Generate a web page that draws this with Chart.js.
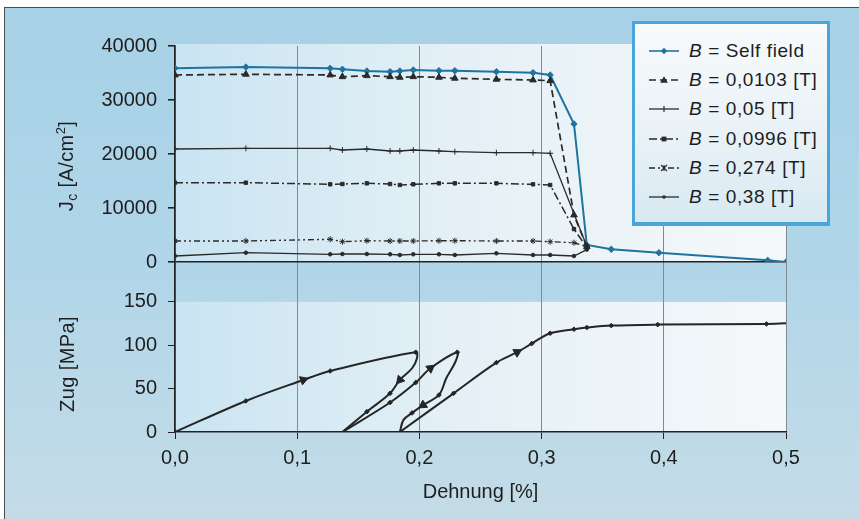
<!DOCTYPE html>
<html>
<head>
<meta charset="utf-8">
<script src="https://cdn.jsdelivr.net/npm/chart.js@4.4.1/dist/chart.umd.min.js"></script>
<style>
html,body{margin:0;padding:0;background:#fff;}
#wrap{position:relative;width:859px;height:519px;overflow:hidden;background:#fff;}
#frame{position:absolute;left:4px;top:7px;width:870px;height:530px;border-left:1px solid #4d4d4d;border-top:1px solid #4d4d4d;
  background:linear-gradient(to bottom,#a7d1e6 0%,#b1d6e9 50%,#c6dce7 100%);}
#c{position:absolute;left:0;top:0;}
.ytitle{position:absolute;font-family:"Liberation Sans",Arial,sans-serif;font-size:20px;color:#1e1e1e;
  transform:translate(-50%,-50%) rotate(-90deg);white-space:nowrap;letter-spacing:0.4px;}
.ytitle sub{font-size:14px;vertical-align:-4px;}
.ytitle sup{font-size:13px;vertical-align:8px;}
#legend{position:absolute;left:632px;top:21px;width:192px;height:198px;
  border:3px solid #4aa5d8;border-bottom-width:4px;
  background:linear-gradient(to bottom,#f8fafc 0%,#e9f2f7 55%,#d8e9f2 100%);}
.row{position:absolute;left:13px;height:24px;display:flex;align-items:center;
  font-family:"Liberation Sans",Arial,sans-serif;font-size:19px;color:#1e1e1e;letter-spacing:0.6px;white-space:nowrap;}
.row svg{margin-right:9px;}
.row i{font-style:italic;}
</style>
</head>
<body>
<div id="wrap">
  <div id="frame"></div>
  <canvas id="c" width="859" height="519"></canvas>
  <div class="ytitle" style="left:66px;top:166px;">J<sub>c</sub> [A/cm<sup>2</sup>]</div>
  <div class="ytitle" style="left:67px;top:364px;">Zug [MPa]</div>
  <div id="legend"></div>
</div>
<script>
// ---------- data ----------
const xTickValues = [0, 0.1, 0.2, 0.3, 0.4, 0.5];
const xTickLabels = ['0,0', '0,1', '0,2', '0,3', '0,4', '0,5'];
const jcTickValues = [0, 10000, 20000, 30000, 40000];
const jcTickLabels = ['0', '10000', '20000', '30000', '40000'];
const zugTickValues = [0, 50, 100, 150];
const zugTickLabels = ['0', '50', '100', '150'];

// strain [%] for the Jc measurements
const strainJc = [0, 0.058, 0.127, 0.137, 0.157, 0.176, 0.184, 0.195, 0.216, 0.229, 0.263, 0.293, 0.307, 0.3265, 0.337, 0.357, 0.396, 0.485, 0.5];
const jcSelfField = [35900, 36100, 35870, 35690, 35370, 35240, 35370, 35560, 35430, 35430, 35240, 35060, 34630, 25560, 3150, 2350, 1720, 310, 0];
const jcB0103 = [34630, 34760, 34630, 34310, 34500, 34310, 34200, 34310, 34200, 34020, 33830, 33700, 33570, 8700, 2830, null, null, null, null];
const jcB05   = [20930, 21060, 21060, 20740, 20930, 20560, 20560, 20740, 20560, 20430, 20240, 20240, 20130, null, 2900, null, null, null, null];
const jcB0996 = [14690, 14690, 14390, 14440, 14570, 14440, 14260, 14390, 14570, 14570, 14570, 14390, 14260, 6100, 2700, null, null, null, null];
const jcB274  = [3890, 3890, 4200, 3760, 3940, 3890, 3890, 3890, 3940, 3940, 3890, 3890, 3760, 3570, 2830, null, null, null, null];
const jcB38   = [1110, 1720, 1430, 1480, 1480, 1430, 1300, 1430, 1430, 1300, 1610, 1300, 1300, 1110, 2300, null, null, null, null];

// tensile stress [MPa] vs strain, three load cycles
const zugC1Strain = [0, 0.058, 0.105, 0.127, 0.197, 0.198, 0.194, 0.184, 0.176, 0.157, 0.137];
const zugC1Stress = [0, 35.8, 60, 70.4, 92, 85, 73.5, 60, 44.6, 23.4, 0];
const zugC2Strain = [0.137, 0.176, 0.197, 0.209, 0.231, 0.2295, 0.222, 0.216, 0.203, 0.194, 0.187, 0.184];
const zugC2Stress = [0, 34, 57, 73.5, 92, 81, 62, 42.7, 31, 22, 14, 0];
const zugC3Strain = [0.184, 0.228, 0.263, 0.28, 0.292, 0.307, 0.3265, 0.337, 0.357, 0.395, 0.484, 0.5];
const zugC3Stress = [0, 44.6, 80, 92, 102, 113.8, 118.5, 120.4, 122.7, 123.8, 124.6, 125.4];
// marker kind per point: 'o' = measured point, 'a' = direction arrow, '-' = none
const zugC1Marks = ['o','o','a','o','o','-','-','a','o','o','-'];
const zugC2Marks = ['-','o','o','a','o','-','-','o','a','o','-','-'];
const zugC3Marks = ['-','o','o','a','o','o','o','o','o','o','o','-'];

const seriesNames = ['Self field', '0,0103 [T]', '0,05 [T]', '0,0996 [T]', '0,274 [T]', '0,38 [T]'];

// ---------- build ----------
const FONT = '"Liberation Sans", Arial, sans-serif';
const TXT = '#1e1e1e';
const DARK = '#2a2a2a';
const BLUE = '#1f73a1';

function pts(xs, ys) { return xs.map((x, i) => ({x: x, y: ys[i]})); }

const jcStyles = [
  {color: BLUE, dash: [], width: 2, style: 'rectRot', r: 3.2},
  {color: DARK, dash: [7, 4], width: 1.7, style: 'triangle', r: 3.8},
  {color: DARK, dash: [], width: 1.3, style: 'cross', r: 3},
  {color: DARK, dash: [8, 3, 2, 3], width: 1.5, style: 'rect', r: 2.4},
  {color: DARK, dash: [6, 3, 2, 3, 2, 3], width: 1.4, style: 'star', r: 3},
  {color: DARK, dash: [], width: 1.3, style: 'circle', r: 1.8}
];
const jcSeries = [jcSelfField, jcB0103, jcB05, jcB0996, jcB274, jcB38];

const datasets = jcSeries.map((vals, i) => ({
  label: 'B = ' + seriesNames[i],
  data: pts(strainJc, vals).filter(p => p.y !== null),
  yAxisID: 'yJ',
  showLine: true,
  borderColor: jcStyles[i].color,
  backgroundColor: jcStyles[i].color,
  borderWidth: jcStyles[i].width,
  borderDash: jcStyles[i].dash,
  pointStyle: jcStyles[i].style,
  pointRadius: jcStyles[i].r,
  pointBorderWidth: 1,
  tension: 0,
  order: 6 - i
}));

function zugDataset(xs, ys, marks) {
  return {
    label: 'Zug',
    data: pts(xs, ys),
    yAxisID: 'yZ',
    showLine: true,
    borderColor: '#252525',
    backgroundColor: '#252525',
    borderWidth: 2,
    tension: 0.35,
    pointStyle: ctx => marks[ctx.dataIndex] === 'a' ? 'triangle' : 'rectRot',
    pointRadius: ctx => marks[ctx.dataIndex] === 'a' ? 5 : (marks[ctx.dataIndex] === 'o' ? 2.3 : 0),
    pointBorderWidth: 1,
    pointRotation: ctx => {
      if (marks[ctx.dataIndex] !== 'a') return 0;
      const sx = ctx.chart.scales.x, sy = ctx.chart.scales.yZ;
      const i = ctx.dataIndex;
      const a = i > 0 ? i - 1 : i, b = i < xs.length - 1 ? i + 1 : i;
      const dx = sx.getPixelForValue(xs[b]) - sx.getPixelForValue(xs[a]);
      const dy = sy.getPixelForValue(ys[b]) - sy.getPixelForValue(ys[a]);
      return Math.atan2(dy, dx) * 180 / Math.PI + 90;
    }
  };
}
datasets.push(zugDataset(zugC1Strain, zugC1Stress, zugC1Marks));
datasets.push(zugDataset(zugC2Strain, zugC2Stress, zugC2Marks));
datasets.push(zugDataset(zugC3Strain, zugC3Stress, zugC3Marks));

const plotBg = {
  id: 'plotBg',
  beforeDraw(chart) {
    const {ctx, chartArea: a, scales} = chart;
    const yJ = scales.yJ, yZ = scales.yZ;
    const g = ctx.createLinearGradient(a.left, 0, a.right, 0);
    g.addColorStop(0, '#c9e4f2');
    g.addColorStop(0.45, '#e4f0f6');
    g.addColorStop(1, '#f5f8fa');
    ctx.save();
    ctx.fillStyle = g;
    const t1 = yJ.getPixelForValue(jcTickValues[jcTickValues.length - 1]) - 2;
    const b1 = yJ.getPixelForValue(0);
    ctx.fillRect(a.left, t1, a.right - a.left, b1 - t1);
    const t2 = yZ.getPixelForValue(zugTickValues[zugTickValues.length - 1]);
    const b2 = yZ.getPixelForValue(0);
    ctx.fillRect(a.left, t2, a.right - a.left, b2 - t2);
    ctx.restore();
  }
};

const tickFont = {family: FONT, size: 20};

new Chart(document.getElementById('c'), {
  type: 'scatter',
  data: {datasets},
  plugins: [plotBg],
  options: {
    responsive: false,
    animation: false,
    events: [],
    layout: {padding: {top: 46, right: 73, bottom: 0, left: 0}},
    plugins: {legend: {display: false}, tooltip: {enabled: false}},
    scales: {
      x: {
        type: 'linear', position: 'bottom', min: 0, max: 0.5,
        afterBuildTicks: s => { s.ticks = xTickValues.map(v => ({value: v})); },
        ticks: {callback: (v, i) => xTickLabels[i], font: tickFont, color: TXT, padding: 7, maxRotation: 0, autoSkip: false},
        grid: {color: '#7f8b92', lineWidth: 1, tickColor: '#222', tickLength: 7},
        border: {color: '#222', width: 1.6},
        title: {display: true, text: 'Dehnung [%]', font: {family: FONT, size: 20}, color: TXT, padding: {top: 0, bottom: 15}},
        afterFit: s => { s.height = 87; }
      },
      yZ: {
        type: 'linear', position: 'left', stack: 'v', stackWeight: 170, min: 0, max: 196,
        afterBuildTicks: s => { s.ticks = zugTickValues.map(v => ({value: v})); },
        ticks: {callback: (v, i) => zugTickLabels[i], font: tickFont, color: TXT, padding: 11},
        grid: {drawOnChartArea: false, tickColor: '#222', tickLength: 7},
        border: {color: '#222', width: 1.6},
        afterFit: s => { s.width = 175; }
      },
      yJ: {
        type: 'linear', position: 'left', stack: 'v', stackWeight: 216, min: 0, max: 40000,
        afterBuildTicks: s => { s.ticks = jcTickValues.map(v => ({value: v})); },
        ticks: {callback: (v, i) => jcTickLabels[i], font: tickFont, color: TXT, padding: 11},
        grid: {
          color: ctx => (ctx.tick && ctx.tick.value === 0) ? '#222' : 'rgba(0,0,0,0)',
          lineWidth: 1.6, tickColor: '#222', tickLength: 7
        },
        border: {color: '#222', width: 1.6},
        afterFit: s => { s.width = 175; }
      }
    }
  }
});

// ---------- legend (HTML) ----------
function markerSvg(st) {
  const c = st.color, cx = 16, cy = 6, r = st.r;
  let m = '';
  if (st.style === 'rectRot') m = `<polygon points="${cx},${cy-r} ${cx+r},${cy} ${cx},${cy+r} ${cx-r},${cy}" fill="${c}"/>`;
  else if (st.style === 'triangle') m = `<polygon points="${cx},${cy-r} ${cx+r},${cy+r*0.7} ${cx-r},${cy+r*0.7}" fill="${c}"/>`;
  else if (st.style === 'cross') m = `<line x1="${cx}" y1="${cy-r}" x2="${cx}" y2="${cy+r}" stroke="${c}" stroke-width="1.2"/>`;
  else if (st.style === 'rect') m = `<rect x="${cx-r}" y="${cy-r}" width="${2*r}" height="${2*r}" fill="${c}"/>`;
  else if (st.style === 'star') m = `<path d="M${cx-r},${cy-r}L${cx+r},${cy+r}M${cx+r},${cy-r}L${cx-r},${cy+r}M${cx},${cy-r}L${cx},${cy+r}" stroke="${c}" stroke-width="1.1"/>`;
  else m = `<circle cx="${cx}" cy="${cy}" r="${r}" fill="${c}"/>`;
  const dash = st.dash.length ? `stroke-dasharray="${st.dash.join(',')}"` : '';
  return `<svg width="32" height="12" viewBox="0 0 32 12"><line x1="1" y1="${cy}" x2="31" y2="${cy}" stroke="${st.color}" stroke-width="${Math.min(st.width,1.6)}" ${dash}/>${m}</svg>`;
}
const leg = document.getElementById('legend');
const rowTops = [15, 44, 73, 103, 132, 161];
seriesNames.forEach((n, i) => {
  const d = document.createElement('div');
  d.className = 'row';
  d.style.top = rowTops[i] + 'px';
  d.innerHTML = markerSvg(jcStyles[i]) + '<span><i>B</i> = ' + n + '</span>';
  leg.appendChild(d);
});
</script>
</body>
</html>
